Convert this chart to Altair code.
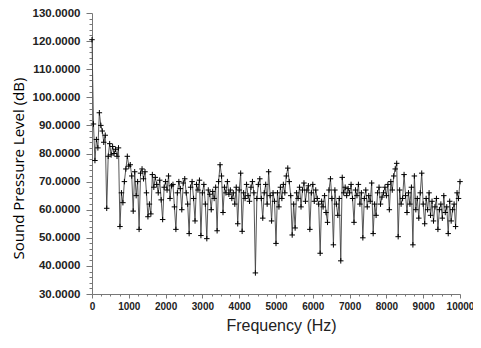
import altair as alt
import pandas as pd

# Frequency grid step (Hz) and sound pressure levels (dB)
FREQ_STEP = 40
SPL_0_1000 = [120.5, 90.5, 77.5, 85, 82, 94.5, 90, 88, 84, 86.5, 60.5, 79, 83.5,
              79.5, 82.5, 80, 81.5, 79, 82, 54, 66, 62.5, 70, 74.5, 79]
SPL_1000_2000 = [75.5, 76, 72, 59.5, 73.5, 65, 70, 53, 73, 74.5, 71, 73.5, 66,
                 57.5, 62, 58.5, 72.5, 68, 71.5, 69, 66, 70.5, 63.5, 56.5, 68]
SPL_2000_3000 = [70, 67, 72, 64, 68.5, 69, 61, 53, 66, 70, 67.5, 60, 69.5,
                 71, 66, 62, 51.5, 68, 70, 64, 56, 69, 67, 70.5, 50.8]
SPL_3000_4000 = [66, 69, 62, 49.7, 67, 65.5, 60, 66.5, 64, 68, 52.5, 70, 76,
                 72, 59, 68, 66, 70, 65.5, 67, 64, 66, 62, 68, 55]
SPL_4000_5000 = [67, 73, 52.3, 66, 64, 69, 65, 63, 68, 70, 66, 37.5, 64,
                 69, 71, 64, 57, 66, 69, 62, 73.5, 65, 56, 66, 63]
SPL_5000_6000 = [48, 66, 61, 68, 64, 69, 66, 72, 74.8, 70, 65, 51, 62,
                 53.5, 66, 64, 68, 61, 67, 69.5, 63, 67, 68.5, 53, 66]
SPL_6000_7000 = [69, 63, 67, 64, 62, 44.5, 63, 61, 65, 59, 55.5, 67, 71,
                 64, 47.5, 67, 62, 58, 64, 41.8, 71.5, 66, 68, 65, 67.5]
SPL_7000_8000 = [66, 69, 64, 55.5, 67, 65, 69, 62, 66, 50, 64, 67, 61,
                 65, 63, 69.5, 51.5, 62, 58, 66, 68, 62, 64.5, 66, 68]
SPL_8000_9000 = [65, 69, 60, 70, 67, 72, 74.5, 76.5, 50.4, 67, 62, 64, 72.5,
                 65, 59, 66, 62, 68, 47.5, 72, 60, 64, 57, 66, 73]
SPL_9000_10000 = [62, 55, 64, 60, 66, 58, 63, 56, 61, 64, 53, 60, 62,
                  57, 65, 59, 61, 51.5, 63, 56, 60, 62, 54, 66, 64, 70]

SPL = (SPL_0_1000 + SPL_1000_2000 + SPL_2000_3000 + SPL_3000_4000 + SPL_4000_5000
       + SPL_5000_6000 + SPL_6000_7000 + SPL_7000_8000 + SPL_8000_9000 + SPL_9000_10000)
FREQ = [i * FREQ_STEP for i in range(len(SPL))]

Y_TICKS = list(range(30, 131, 2))
X_TICKS = list(range(0, 10001, 250))

df = pd.DataFrame({"Frequency": FREQ, "SPL": SPL})

x = alt.X(
    "Frequency:Q",
    scale=alt.Scale(domain=[0, 10000], nice=False, zero=False),
    axis=alt.Axis(
        values=X_TICKS,
        labelExpr="datum.value % 1000 === 0 ? '' + datum.value : ''",
        labelOverlap=False,
        labelFlush=False,
        labelFont="Liberation Sans",
        labelFontSize=10,
        labelFontWeight="bold",
        labelColor="#222",
        labelPadding=3,
        tickSize={"condition": {"test": "datum.value % 1000 === 0", "value": 4}, "value": 2},
        tickColor="#777",
        domainColor="#777",
        grid=False,
        title="Frequency (Hz)",
        titleFont="Liberation Sans",
        titleFontSize=16,
        titleFontWeight="normal",
        titleColor="#222",
        titleX=189,
        titleY=31,
        titleAlign="center",
        titleBaseline="middle",
    ),
)

y = alt.Y(
    "SPL:Q",
    scale=alt.Scale(domain=[30, 130], nice=False, zero=False),
    axis=alt.Axis(
        values=Y_TICKS,
        labelExpr="datum.value % 10 === 0 ? format(datum.value, '.4f') : ''",
        labelOverlap=False,
        labelFont="Liberation Sans",
        labelFontSize=11.5,
        labelFontWeight="bold",
        labelColor="#222",
        labelPadding=6,
        tickSize={"condition": {"test": "datum.value % 10 === 0", "value": 6}, "value": 3},
        tickColor="#777",
        domainColor="#777",
        grid=False,
        title="Sound Pressure Level (dB)",
        titleFont="Open Sans",
        titleFontSize=15,
        titleFontWeight="normal",
        titleColor="#000",
        titleX=-74,
        titleY=155,
        titleAngle=270,
        titleAlign="center",
        titleBaseline="middle",
    ),
)

base = alt.Chart(df).encode(x=x, y=y)

line = base.mark_line(color="#444", strokeWidth=0.9)
points = base.mark_point(
    shape="M-1,0L1,0M0,-1L0,1", size=30, filled=False, color="black", strokeWidth=1, opacity=1
)

chart = (
    alt.layer(line, points)
    .properties(
        width=368,
        height=281,
        autosize=alt.AutoSizeParams(type="none"),
        padding={"left": 84, "top": 5, "right": 13, "bottom": 46},
    )
    .configure_view(stroke=None)
)

chart.save("out.html", embed_options={"renderer": "svg", "actions": False})
